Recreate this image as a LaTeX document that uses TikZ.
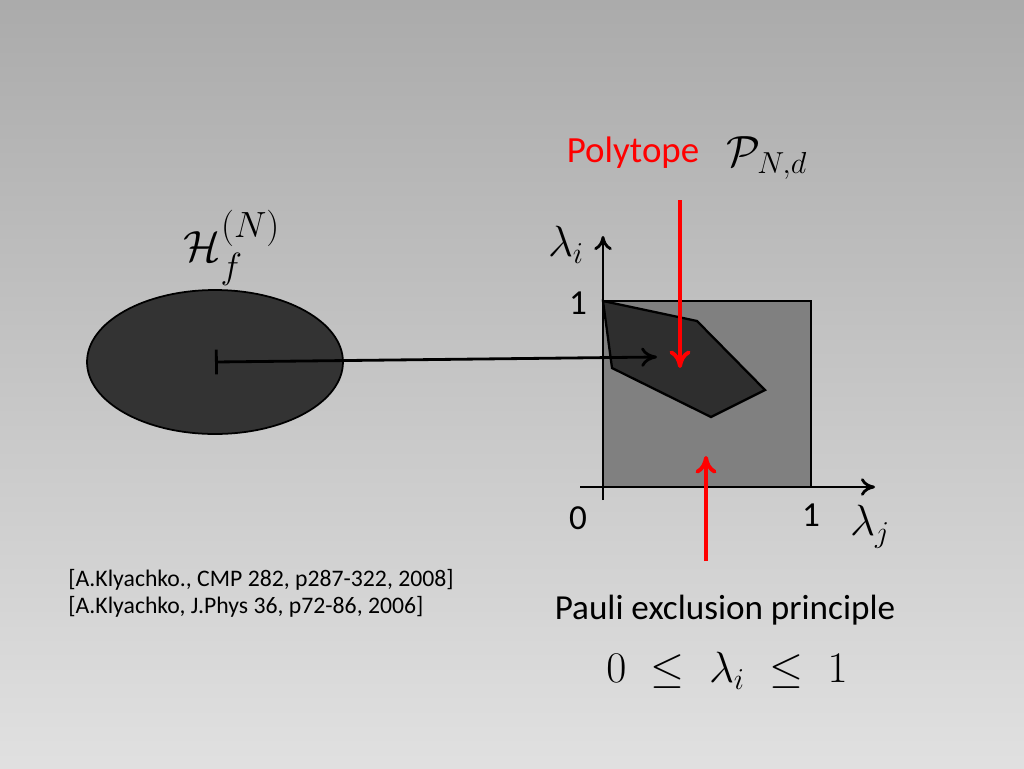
\documentclass[tikz,border=0pt]{standalone}
\usepackage{fontspec}
\setmainfont{Carlito}
\usepackage{amsmath}
\usetikzlibrary{arrows.meta,shapes.geometric}
\begin{document}
\begin{tikzpicture}[x=0.02cm,y=-0.02cm,
 lbl/.style={inner sep=0pt},
 ax/.style={line width=1.6pt,-{To[length=8pt,width=10pt]}},
 redar/.style={red,line width=2.2pt,-{To[length=10pt,width=12pt]}},
 mth/.style={inner sep=0pt,font=\fontsize{25}{30}\selectfont}]
\shade[top color=black!33,bottom color=black!12] (0,0) rectangle (1024,768);
\useasboundingbox (0,0) rectangle (1024,768);
\node[draw,line width=1pt,fill=black!80,ellipse,minimum width=5.12cm,minimum height=2.88cm,inner sep=0pt] (ell) at (215,362) {};
\coordinate (src) at (215,362);
\coordinate (dst) at (657,357);
\fill[black!50] (603,301) rectangle (811,487);
\draw[line width=1.5pt] (603,301) rectangle (811,487);
\draw[line width=1.3pt,fill=black!82] (603,301) -- (697,321) -- (765,390) -- (711,417) -- (612,368) -- cycle;
\draw[line width=1.6pt,{Bar[width=14pt]}-{To[length=9pt,width=11pt]}] (src) -- (dst);
\coordinate (yb) at (603,500); \coordinate (yt) at (603,236);
\coordinate (xl) at (580,487); \coordinate (xr) at (875,487);
\draw[ax] (yb) -- (yt);
\draw[ax] (xl) -- (xr);
\coordinate (r1a) at (680,200); \coordinate (r1b) at (680,368);
\coordinate (r2a) at (706,561); \coordinate (r2b) at (706,456);
\draw[redar] (r1a) -- (r1b);
\draw[redar] (r2a) -- (r2b);
\node[mth] (li) at (566,245) {$\lambda_i$};
\node[lbl,font=\fontsize{20}{24}\selectfont] (one1) at (578,303) {1};
\node[lbl,font=\fontsize{20}{24}\selectfont] (zero) at (578,518) {0};
\node[lbl,font=\fontsize{20}{24}\selectfont] (one2) at (811,515) {1};
\node[mth] (lj) at (870,527) {$\lambda_j$};
\node[lbl,red,font=\fontsize{21}{25}\selectfont] (poly) at (633,153) {Polytope};
\node[mth] (pnd) at (767,158) {$\mathcal{P}_{N,d}$};
\node[lbl,font=\fontsize{28}{32}\selectfont] (hf) at (232,248) {$\mathcal{H}_f^{(N)}$};
\node[lbl,anchor=west,font=\fontsize{13.5}{16}\selectfont] (r1) at (68,580) {[A.Klyachko., CMP 282, p287-322, 2008]};
\node[lbl,anchor=west,font=\fontsize{13.5}{16}\selectfont] (r2) at (68,607) {[A.Klyachko, J.Phys 36, p72-86, 2006]};
\node[lbl,font=\fontsize{20}{24}\selectfont] (pauli) at (725,610) {Pauli exclusion principle};
\node[mth] (ineq) at (727,671) {$0\;\le\;\lambda_i\;\le\;1$};
\end{tikzpicture}
\end{document}
